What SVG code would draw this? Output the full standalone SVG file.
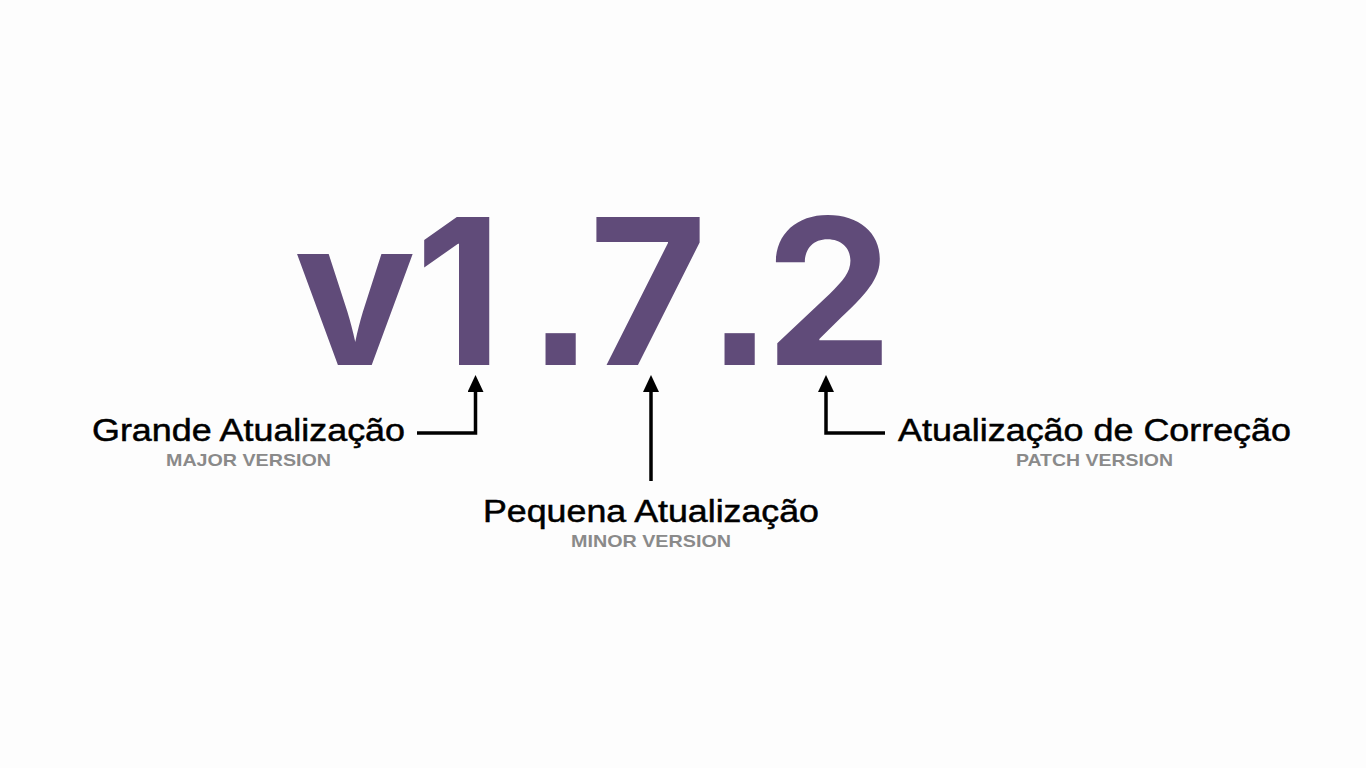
<svg xmlns="http://www.w3.org/2000/svg" width="1366" height="768" viewBox="0 0 1366 768">
  <style>
    .big { font-family: Inter, "Liberation Sans", sans-serif; font-weight: 700; font-size: 203px; fill: #604b79; }
    .dot { font-family: "Liberation Sans", Arial, sans-serif; font-weight: bold; font-size: 214px; }
    .lbl { font-family: "Liberation Sans", Arial, sans-serif; font-size: 31px; fill: #000; stroke: #000; stroke-width: 0.5; text-anchor: middle; }
    .sub { font-family: "Liberation Sans", Arial, sans-serif; font-weight: bold; font-size: 17px; fill: #8a8a8a; text-anchor: middle; }
    .conn { fill: none; stroke: #000; stroke-width: 3.5; }
  </style>
  <defs>
    <marker id="ah" markerUnits="userSpaceOnUse" markerWidth="17" markerHeight="16" viewBox="0 0 17 16" refX="0" refY="8" orient="auto">
      <path d="M0,0 L17,8 L0,16 Z" fill="#000"/>
    </marker>
  </defs>
  <rect width="1366" height="768" fill="#fdfdfd"/>
  <g id="version">
    <text class="big" y="365"><tspan x="294">v</tspan><tspan x="415">1</tspan><tspan class="dot" x="531">.</tspan><tspan x="589">7</tspan><tspan class="dot" x="710">.</tspan><tspan x="765">2</tspan></text>
  </g>
  <g id="connectors">
    <path class="conn" d="M417,433 H475.5 V392" marker-end="url(#ah)"/>
    <path class="conn" d="M651,481 V392" marker-end="url(#ah)"/>
    <path class="conn" d="M885,433 H826 V392" marker-end="url(#ah)"/>
  </g>
  <g id="major">
    <text class="lbl" x="248.5" y="441" textLength="313" lengthAdjust="spacingAndGlyphs">Grande Atualização</text>
    <text class="sub" x="248.5" y="466" textLength="165" lengthAdjust="spacingAndGlyphs">MAJOR VERSION</text>
  </g>
  <g id="minor">
    <text class="lbl" x="651" y="522" textLength="336" lengthAdjust="spacingAndGlyphs">Pequena Atualização</text>
    <text class="sub" x="651" y="547" textLength="160" lengthAdjust="spacingAndGlyphs">MINOR VERSION</text>
  </g>
  <g id="patch">
    <text class="lbl" x="1094.5" y="441" textLength="393" lengthAdjust="spacingAndGlyphs">Atualização de Correção</text>
    <text class="sub" x="1094.5" y="466" textLength="157" lengthAdjust="spacingAndGlyphs">PATCH VERSION</text>
  </g>
</svg>
